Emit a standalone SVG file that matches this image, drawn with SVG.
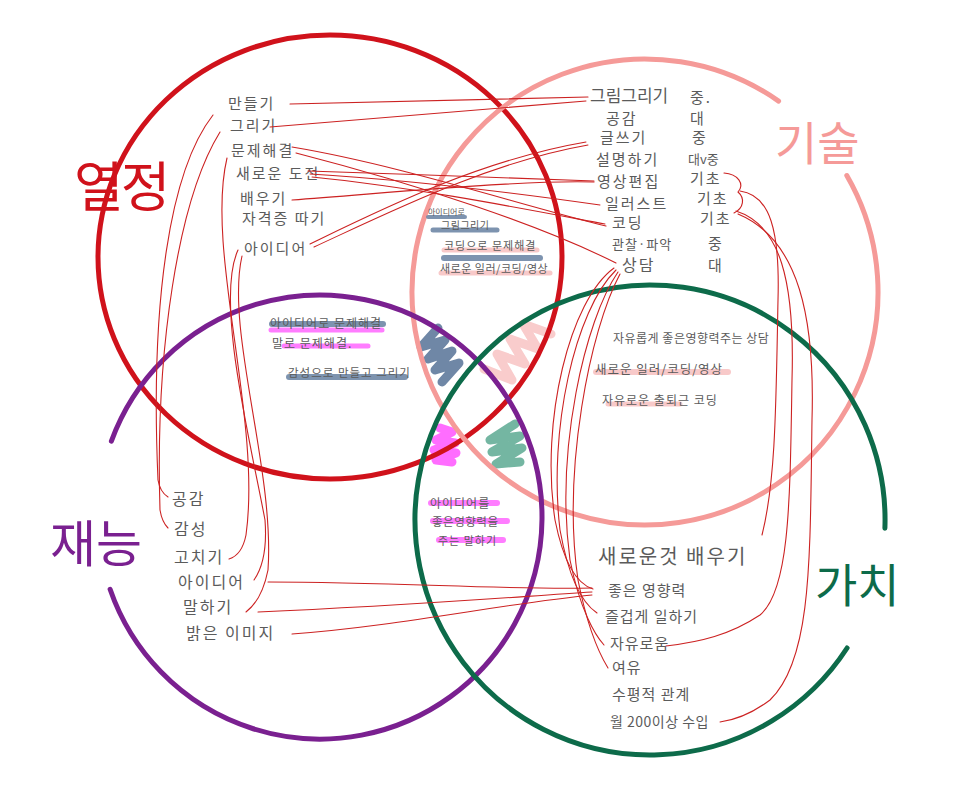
<svg xmlns="http://www.w3.org/2000/svg" width="966" height="810" viewBox="0 0 966 810">
<style>
.t{font-family:"Noto Sans CJK KR","Noto Sans",sans-serif;fill:#5b5b5b;font-size:15px;letter-spacing:2px}
.m{font-size:12px;letter-spacing:1px}
.big{font-family:"Noto Sans CJK KR","Noto Sans",sans-serif;font-size:50px}
.ring{fill:none;stroke-width:5;stroke-linecap:round}
.hl{stroke-linecap:round;fill:none}
.blue{stroke:#6f87a6;opacity:0.9}
.mag{stroke:#ff66ff;opacity:0.85}
.pk{stroke:#f7c3c3;opacity:0.9}
.scr{fill:none;stroke-width:9;stroke-linecap:round;stroke-linejoin:round}
.c{fill:none;stroke:#cc2222;stroke-width:1.1;stroke-linecap:round}
</style>
<rect width="966" height="810" fill="#ffffff"/>

<g id="scribbles">
<polyline class="scr" stroke="#6f87a6" points="438,328 421,347 445,340 428,359 452,351 435,370 459,363 442,382"/>
<polyline class="scr" stroke="#f9cccc" points="551,334 523,324 538,349 510,339 525,364 497,354 512,380 484,369"/>
<polyline class="scr" stroke="#ff6dff" points="440,428 452,432 436,440 455,443 434,450 456,453 436,460 452,462"/>
<polyline class="scr" stroke="#74b6a2" points="515,424 490,440 520,436 492,452 522,448 496,464 520,462"/>
</g>

<g id="set-passion">
<ellipse class="ring" stroke="#d0121b" cx="330" cy="257" rx="232" ry="222"/>
<text class="big" x="74" y="207" fill="#d0121b" style="font-size:54px;letter-spacing:-3px">열정</text>
<text class="t" x="228" y="109">만들기</text>
<text class="t" x="230" y="131">그리기</text>
<text class="t" x="231" y="156">문제해결</text>
<text class="t" x="236" y="179">새로운 도전</text>
<text class="t" x="240" y="204">배우기</text>
<text class="t" x="242" y="224">자격증 따기</text>
<text class="t" x="244" y="254">아이디어</text>
</g>

<g id="set-skill">
<path class="ring" stroke="#f59a98" d="M846.8,175.5 A233,233 0 1 1 778.6,101.1"/>
<text class="big" x="775" y="160" fill="#f59a98" style="font-size:46px">기술</text>
<text class="t" x="590" y="102" style="font-size:17px;letter-spacing:0">그림그리기</text>
<text class="t" x="606" y="124">공감</text>
<text class="t" x="600" y="143">글쓰기</text>
<text class="t" x="596" y="165">설명하기</text>
<text class="t" x="597" y="187">영상편집</text>
<text class="t" x="605" y="209">일러스트</text>
<text class="t" x="612" y="228">코딩</text>
<text class="t" x="612" y="249" style="font-size:13px;letter-spacing:1px">관찰·파악</text>
<text class="t" x="622" y="271" style="font-size:16px">상담</text>
<text class="t" x="690" y="103">중.</text>
<text class="t" x="690" y="124">대</text>
<text class="t" x="692" y="143">중</text>
<text class="t" x="688" y="164" style="font-size:13px;letter-spacing:0">대v중</text>
<text class="t" x="690" y="184">기초</text>
<text class="t" x="697" y="204">기초</text>
<text class="t" x="700" y="224">기초</text>
<text class="t" x="708" y="249">중</text>
<text class="t" x="708" y="271">대</text>
</g>

<g id="set-talent">
<path class="ring" stroke="#7a2090" d="M111.4,441.1 A222,222 0 1 1 110.1,589.3"/>
<text class="big" x="50" y="562" fill="#7a2090">재능</text>
<text class="t" x="172" y="505" style="font-size:16px">공감</text>
<text class="t" x="174" y="535" style="font-size:16px">감성</text>
<text class="t" x="174" y="563" style="font-size:16px">고치기</text>
<text class="t" x="178" y="588" style="font-size:16px">아이디어</text>
<text class="t" x="183" y="613" style="font-size:16px">말하기</text>
<text class="t" x="186" y="639" style="font-size:16px">밝은 이미지</text>
</g>

<g id="set-value">
<path class="ring" stroke="#0d6b4a" d="M847.1,648 A235,235 0 1 1 884.9,528.2"/>
<text class="big" x="815" y="602" fill="#0d6b4a" style="font-size:46px">가치</text>
<text class="t" x="598" y="564" style="font-size:20px">새로운것 배우기</text>
<text class="t" x="608" y="596" style="letter-spacing:1px">좋은 영향력</text>
<text class="t" x="605" y="622" style="letter-spacing:1px">즐겁게 일하기</text>
<text class="t" x="610" y="649" style="letter-spacing:1px">자유로움</text>
<text class="t" x="612" y="673" style="letter-spacing:1px">여유</text>
<text class="t" x="612" y="700" style="letter-spacing:1px">수평적 관계</text>
<text class="t" x="610" y="727" style="font-size:14px;letter-spacing:0.5px">월 200이상 수입</text>
</g>

<g id="passion-skill">
<line class="hl blue" x1="428" y1="217" x2="465" y2="217" stroke-width="4"/>
<line class="hl blue" x1="433" y1="230" x2="497" y2="230" stroke-width="5"/>
<line class="hl pk" x1="444" y1="250" x2="537" y2="250" stroke-width="5"/>
<line class="hl blue" x1="444" y1="258" x2="540" y2="258" stroke-width="6"/>
<line class="hl pk" x1="441" y1="273" x2="550" y2="273" stroke-width="5"/>
<text class="t" x="428" y="214.5" style="font-size:8px;letter-spacing:0">아이디어로</text>
<text class="t" x="441" y="229" style="font-size:10px;letter-spacing:0.5px">그림그리기</text>
<text class="t" x="444" y="250" style="font-size:11px;letter-spacing:1px">코딩으로 문제해결</text>
<text class="t" x="440" y="273" style="font-size:11px;letter-spacing:0.5px">새로운 일러/코딩/영상</text>
</g>

<g id="passion-talent">
<line class="hl blue" x1="272" y1="324" x2="383" y2="324" stroke-width="6"/>
<line class="hl mag" x1="271" y1="330" x2="382" y2="330" stroke-width="5"/>
<line class="hl mag" x1="284" y1="346" x2="368" y2="346" stroke-width="5"/>
<line class="hl blue" x1="289" y1="377" x2="405" y2="377" stroke-width="6"/>
<text class="t m" x="270" y="328">아이디어로 문제해결</text>
<text class="t m" x="272" y="348">말로 문제해결.</text>
<text class="t m" x="288" y="377" style="font-size:11.5px">감성으로 만들고 그리기</text>
</g>

<g id="skill-value">
<line class="hl pk" x1="596" y1="372" x2="728" y2="372" stroke-width="6"/>
<line class="hl pk" x1="608" y1="404" x2="680" y2="404" stroke-width="5"/>
<text class="t m" x="613" y="343" style="letter-spacing:0.5px">자유롭게 좋은영향력주는 상담</text>
<text class="t m" x="595" y="374" style="font-size:12.5px">새로운 일러/코딩/영상</text>
<text class="t m" x="602" y="405">자유로운 출퇴근 코딩</text>
</g>

<g id="talent-value">
<line class="hl mag" x1="431" y1="503" x2="497" y2="503" stroke-width="6"/>
<line class="hl mag" x1="433" y1="521" x2="507" y2="521" stroke-width="6"/>
<line class="hl mag" x1="439" y1="540" x2="503" y2="540" stroke-width="6"/>
<text class="t m" x="430" y="508">아이디어를</text>
<text class="t m" x="432" y="526" style="font-size:11.5px;letter-spacing:0.5px">좋은영향력을</text>
<text class="t m" x="438" y="545" style="font-size:11px">주는 말하기</text>
</g>

<g id="connectors">
<path class="c" d="M290,104 L588,97"/>
<path class="c" d="M270,127 L586,101"/>
<path class="c" d="M292,147 C400,165 520,205 606,226"/>
<path class="c" d="M296,153 C420,185 540,225 616,263"/>
<path class="c" d="M308,171 C400,174 520,178 594,181"/>
<path class="c" d="M310,174 C410,180 530,195 600,205"/>
<path class="c" d="M312,177 C420,188 530,210 605,224"/>
<path class="c" d="M292,200 C400,192 520,180 594,182"/>
<path class="c" d="M310,244 C380,210 480,160 586,142"/>
<path class="c" d="M314,247 C390,212 490,162 588,145"/>
<path class="c" d="M213,115 C170,170 150,300 158,480 Q160,492 168,497"/>
<path class="c" d="M220,132 C178,200 155,350 160,510 Q162,522 168,528"/>
<path class="c" d="M227,158 C205,250 262,420 246,535 Q242,555 229,559"/>
<path class="c" d="M238,250 C215,300 250,440 265,520 Q268,560 254,580"/>
<path class="c" d="M242,256 C225,330 275,470 268,570 Q262,600 246,612"/>
<path class="c" d="M268,582 C400,582 500,590 592,588"/>
<path class="c" d="M258,612 C400,606 500,598 592,592"/>
<path class="c" d="M292,634 C400,626 500,604 592,595"/>
<path class="c" d="M614,268 C570,300 540,420 555,520 C565,570 580,585 593,589"/>
<path class="c" d="M616,270 C575,310 548,430 560,530 C570,585 585,605 597,613"/>
<path class="c" d="M618,272 C585,320 555,450 570,560 C580,610 595,635 604,645"/>
<path class="c" d="M620,274 C590,330 562,470 578,580 C588,630 600,655 608,668"/>
<path class="c" d="M724,173 C738,174 745,184 738,192 C745,198 744,208 734,213"/>
<path class="c" d="M740,191 C770,195 780,230 778,300 C776,400 776,480 762,535"/>
<path class="c" d="M736,211 C780,225 795,280 792,380 C790,500 790,590 760,615 C730,635 700,642 666,646"/>
<path class="c" d="M738,214 C800,240 815,320 812,420 C810,560 812,660 770,700 C750,715 735,720 720,722"/>
</g>
</svg>
